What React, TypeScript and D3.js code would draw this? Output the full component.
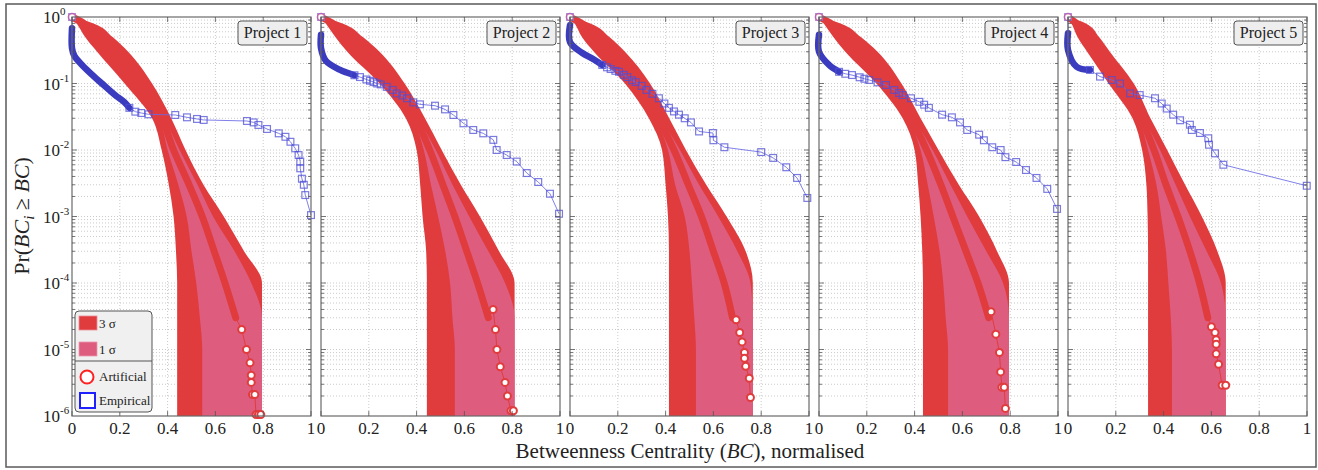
import React from 'react';
import * as d3 from 'd3';

const SERIF = "'Liberation Serif', 'Times New Roman', serif";
const RED = '#e03c3e';
const PINK = '#de5d7e';
const BLUE_DARK = '#3b3bc0';
const BLUE = '#4d4dd6';

const PLOT_LEFT = 72;
const PANEL_STEP = 249;
const PLOT_W = 239;
const PLOT_TOP = 17;
const PLOT_BOTTOM = 416;

const projectNames = ['Project 1', 'Project 2', 'Project 3', 'Project 4', 'Project 5'];
const xTicks = [0, 0.2, 0.4, 0.6, 0.8, 1];
const xTickLabels = ['0', '0.2', '0.4', '0.6', '0.8', '1'];
const yDecades = [0, -1, -2, -3, -4, -5, -6];

// probability levels at which the band edges were read
const bandLevels = [1, 0.8, 0.5, 0.3, 0.1, 0.03, 0.01, 3e-3, 1e-3, 3e-4, 1e-4, 3e-5, 1e-5, 1e-6];

const lower3 = [
  [0, 0.02, 0.055, 0.105, 0.22, 0.335, 0.375, 0.405, 0.425, 0.435, 0.44, 0.44, 0.44, 0.44],
  [0, 0.02, 0.06, 0.11, 0.245, 0.355, 0.40, 0.415, 0.425, 0.44, 0.443, 0.443, 0.443, 0.443],
  [0, 0.02, 0.05, 0.10, 0.23, 0.33, 0.385, 0.40, 0.41, 0.414, 0.414, 0.414, 0.414, 0.414],
  [0, 0.02, 0.06, 0.11, 0.24, 0.35, 0.40, 0.415, 0.425, 0.432, 0.435, 0.435, 0.435, 0.435],
  [0, 0.015, 0.04, 0.08, 0.17, 0.27, 0.31, 0.328, 0.333, 0.335, 0.335, 0.335, 0.335, 0.335],
];
const lower1 = [
  [0, 0.045, 0.10, 0.16, 0.27, 0.365, 0.40, 0.445, 0.48, 0.50, 0.52, 0.535, 0.545, 0.545],
  [0, 0.045, 0.105, 0.165, 0.29, 0.385, 0.43, 0.46, 0.49, 0.52, 0.54, 0.55, 0.56, 0.56],
  [0, 0.045, 0.10, 0.155, 0.275, 0.36, 0.41, 0.44, 0.48, 0.50, 0.51, 0.52, 0.527, 0.527],
  [0, 0.045, 0.105, 0.165, 0.28, 0.375, 0.425, 0.455, 0.48, 0.505, 0.52, 0.53, 0.54, 0.54],
  [0, 0.03, 0.075, 0.115, 0.21, 0.295, 0.335, 0.37, 0.39, 0.41, 0.42, 0.43, 0.435, 0.435],
];
const upper1 = [
  [0, 0.055, 0.12, 0.18, 0.29, 0.385, 0.45, 0.525, 0.59, 0.68, 0.75, 0.795, 0.795, 0.795],
  [0, 0.055, 0.125, 0.185, 0.31, 0.405, 0.48, 0.55, 0.62, 0.70, 0.77, 0.81, 0.81, 0.81],
  [0, 0.055, 0.12, 0.175, 0.295, 0.38, 0.46, 0.54, 0.62, 0.70, 0.755, 0.765, 0.765, 0.765],
  [0, 0.055, 0.125, 0.185, 0.30, 0.395, 0.475, 0.55, 0.62, 0.70, 0.77, 0.795, 0.795, 0.795],
  [0, 0.04, 0.095, 0.135, 0.23, 0.315, 0.385, 0.45, 0.51, 0.58, 0.64, 0.66, 0.66, 0.66],
];
const upper3 = [
  [0, 0.09, 0.17, 0.235, 0.335, 0.415, 0.475, 0.55, 0.635, 0.72, 0.795, 0.795, 0.795, 0.795],
  [0, 0.09, 0.175, 0.245, 0.35, 0.435, 0.505, 0.585, 0.665, 0.745, 0.81, 0.81, 0.81, 0.81],
  [0, 0.085, 0.165, 0.23, 0.335, 0.415, 0.485, 0.57, 0.655, 0.735, 0.765, 0.765, 0.765, 0.765],
  [0, 0.09, 0.175, 0.245, 0.345, 0.425, 0.50, 0.585, 0.67, 0.745, 0.795, 0.795, 0.795, 0.795],
  [0, 0.075, 0.13, 0.175, 0.275, 0.345, 0.415, 0.49, 0.56, 0.625, 0.66, 0.66, 0.66, 0.66],
];
// mean of the artificial runs, at the first 12 band levels (dense markers)
const meanX = [
  [0, 0.05, 0.11, 0.17, 0.28, 0.375, 0.425, 0.49, 0.545, 0.595, 0.64, 0.685],
  [0, 0.05, 0.115, 0.175, 0.30, 0.395, 0.455, 0.51, 0.56, 0.61, 0.655, 0.70],
  [0, 0.05, 0.11, 0.165, 0.285, 0.37, 0.435, 0.495, 0.55, 0.60, 0.645, 0.68],
  [0, 0.05, 0.115, 0.175, 0.29, 0.385, 0.45, 0.51, 0.56, 0.615, 0.665, 0.71],
  [0, 0.035, 0.085, 0.125, 0.22, 0.305, 0.36, 0.41, 0.46, 0.51, 0.55, 0.585],
];
// sparse artificial markers in the tail
const tailX = [
  [0.71, 0.73, 0.745, 0.75, 0.75, 0.755, 0.765, 0.77, 0.78, 0.79],
  [0.72, 0.73, 0.736, 0.75, 0.77, 0.78, 0.795, 0.805],
  [0.695, 0.71, 0.72, 0.73, 0.73, 0.735, 0.75, 0.755],
  [0.72, 0.74, 0.755, 0.76, 0.765, 0.775, 0.78],
  [0.60, 0.615, 0.62, 0.62, 0.62, 0.63, 0.645, 0.66],
];
const tailP = [
  [2e-5, 1e-5, 6.3e-6, 4.1e-6, 3.2e-6, 2.1e-6, 2.1e-6, 1.05e-6, 1.05e-6, 1.05e-6],
  [4e-5, 2e-5, 1e-5, 5.5e-6, 3.2e-6, 2e-6, 1.2e-6, 1.2e-6],
  [2.8e-5, 1.8e-5, 1.3e-5, 9e-6, 7.4e-6, 5.6e-6, 3.7e-6, 1.9e-6],
  [3.7e-5, 1.7e-5, 9e-6, 4.6e-6, 2.7e-6, 2.7e-6, 1.3e-6],
  [2.2e-5, 1.8e-5, 1.4e-5, 1.2e-5, 8.6e-6, 6e-6, 2.9e-6, 2.9e-6],
];

// empirical CCDF; the first `denseCount` points are overplotted into a solid band
const empX = [
  [0, 0, 0, 0.01, 0.042, 0.08, 0.125, 0.18, 0.22, 0.24, 0.265, 0.29, 0.32, 0.432, 0.481, 0.523, 0.551, 0.732, 0.76, 0.78, 0.816, 0.865, 0.893, 0.914, 0.934, 0.948, 0.955, 0.955, 0.962, 0.97, 0.976, 1.0],
  [0, 0, 0, 0.02, 0.08, 0.11, 0.14, 0.163, 0.19, 0.205, 0.22, 0.235, 0.25, 0.275, 0.30, 0.317, 0.34, 0.36, 0.386, 0.414, 0.477, 0.519, 0.554, 0.596, 0.637, 0.679, 0.721, 0.735, 0.777, 0.819, 0.861, 0.909, 0.958, 0.996],
  [0, 0, 0, 0.05, 0.10, 0.135, 0.155, 0.17, 0.19, 0.205, 0.225, 0.24, 0.26, 0.275, 0.30, 0.32, 0.345, 0.372, 0.395, 0.414, 0.435, 0.456, 0.48, 0.506, 0.54, 0.598, 0.60, 0.646, 0.80, 0.85, 0.905, 0.95, 0.993],
  [0, 0, 0, 0.042, 0.084, 0.11, 0.138, 0.17, 0.19, 0.21, 0.245, 0.28, 0.315, 0.335, 0.35, 0.385, 0.42, 0.44, 0.46, 0.515, 0.556, 0.59, 0.62, 0.67, 0.69, 0.725, 0.76, 0.78, 0.825, 0.866, 0.91, 0.955, 0.996],
  [0, 0, 0, 0.036, 0.092, 0.134, 0.183, 0.218, 0.26, 0.30, 0.364, 0.392, 0.413, 0.44, 0.469, 0.51, 0.518, 0.552, 0.587, 0.59, 0.615, 0.65, 0.999],
];
const empP = [
  [1, 0.68, 0.34, 0.26, 0.19, 0.14, 0.1, 0.067, 0.052, 0.043, 0.0377, 0.036, 0.0344, 0.0336, 0.031, 0.0293, 0.0283, 0.0273, 0.026, 0.0238, 0.0207, 0.0178, 0.0158, 0.0133, 0.0106, 0.0084, 0.0067, 0.0053, 0.0037, 0.003, 0.0021, 0.00105],
  [1, 0.54, 0.34, 0.22, 0.16, 0.145, 0.133, 0.125, 0.115, 0.11, 0.105, 0.1, 0.097, 0.089, 0.08, 0.071, 0.066, 0.06, 0.052, 0.0486, 0.0464, 0.0408, 0.0336, 0.0252, 0.02, 0.0178, 0.0142, 0.01, 0.0084, 0.0067, 0.0045, 0.0033, 0.0022, 0.0011],
  [1, 0.76, 0.42, 0.29, 0.23, 0.19, 0.175, 0.165, 0.155, 0.15, 0.135, 0.125, 0.112, 0.105, 0.092, 0.08, 0.07, 0.06, 0.05, 0.043, 0.038, 0.034, 0.03, 0.026, 0.019, 0.018, 0.014, 0.011, 0.0093, 0.0076, 0.0055, 0.0038, 0.0019],
  [1, 0.54, 0.3, 0.19, 0.15, 0.14, 0.134, 0.124, 0.118, 0.113, 0.104, 0.095, 0.08, 0.072, 0.067, 0.06, 0.053, 0.048, 0.043, 0.034, 0.031, 0.026, 0.02, 0.017, 0.014, 0.011, 0.01, 0.0078, 0.0066, 0.005, 0.0038, 0.0026, 0.0013],
  [1, 0.57, 0.32, 0.179, 0.16, 0.127, 0.113, 0.1, 0.071, 0.067, 0.06, 0.05, 0.042, 0.034, 0.028, 0.024, 0.02, 0.018, 0.015, 0.012, 0.0089, 0.006, 0.0029],
];
const denseCount = [10, 7, 6, 5, 5];

function Panel({ i }: { i: number }) {
  const left = PLOT_LEFT + i * PANEL_STEP;
  const x = d3.scaleLinear().domain([0, 1]).range([left, left + PLOT_W]);
  const y = d3.scaleLog().domain([1e-6, 1]).range([PLOT_BOTTOM, PLOT_TOP]);

  const band = (lo: number[], hi: number[]) =>
    d3.area<number>()
      .y(d => y(d))
      .x0((_, k) => x(lo[k]))
      .x1((_, k) => x(hi[k]))
      .curve(d3.curveMonotoneY)(bandLevels) || '';

  const meanLine = d3.line<number>()
    .x(d => x(d))
    .y((_, k) => y(bandLevels[k]))
    .curve(d3.curveMonotoneY)(meanX[i]) || '';

  const lastMean = meanX[i].length - 1;
  const tailPts: [number, number][] = [[meanX[i][lastMean], bandLevels[lastMean]] as [number, number]]
    .concat(tailX[i].map((v, k) => [v, tailP[i][k]] as [number, number]));
  const tailLine = d3.line<[number, number]>().x(d => x(d[0])).y(d => y(d[1]))(tailPts) || '';

  const emp = empX[i].map((v, k) => [v, empP[i][k]] as [number, number]);
  const empLine = d3.line<[number, number]>().x(d => x(d[0])).y(d => y(d[1]))(emp) || '';
  const denseLine = d3.line<[number, number]>()
    .x(d => x(d[0])).y(d => y(d[1]))
    .curve(d3.curveCatmullRom.alpha(0.5))(emp.slice(1, denseCount[i])) || '';

  const minorLevels: number[] = [];
  for (let e = -6; e < 0; e++) {
    for (let m = 1; m <= 9; m++) {
      if (m === 1 && e === -6) continue;
      minorLevels.push(m * Math.pow(10, e));
    }
  }

  const clipId = `clip${i}`;
  const right = left + PLOT_W;

  return (
    <g>
      <defs>
        <clipPath id={clipId}>
          <rect x={left} y={PLOT_TOP} width={PLOT_W} height={PLOT_BOTTOM - PLOT_TOP} />
        </clipPath>
      </defs>
      <rect x={left} y={PLOT_TOP} width={PLOT_W} height={PLOT_BOTTOM - PLOT_TOP} fill="#fff" />
      {/* grid */}
      {minorLevels.map(p => (
        <line key={'h' + p} x1={left} x2={right} y1={y(p)} y2={y(p)}
          stroke="#bdbdbd" strokeWidth={0.8} strokeDasharray="1,2" />
      ))}
      {xTicks.slice(1, -1).map(t => (
        <line key={'v' + t} x1={x(t)} x2={x(t)} y1={PLOT_TOP} y2={PLOT_BOTTOM}
          stroke="#bdbdbd" strokeWidth={0.8} strokeDasharray="1,2" />
      ))}

      <g clipPath={`url(#${clipId})`}>
        <path d={band(lower3[i], upper3[i])} fill={RED} />
        <path d={band(lower1[i], upper1[i])} fill={PINK} />
      </g>
      <path d={meanLine} fill="none" stroke={RED} strokeWidth={7} strokeLinecap="round" strokeLinejoin="round" />
      <path d={tailLine} fill="none" stroke={RED} strokeWidth={1} />
      {tailX[i].map((v, k) => (
        <circle key={'t' + k} cx={x(v)} cy={y(tailP[i][k])} r={3.5} fill="#fff" stroke={RED} strokeWidth={2} />
      ))}
      <circle cx={x(0)} cy={y(1)} r={3.6} fill="#fff" stroke="#e26a8c" strokeWidth={1.5} />

      {/* empirical */}
      <path d={empLine} fill="none" stroke="#6a6ae4" strokeWidth={1} opacity={0.85} />
      <path d={denseLine} fill="none" stroke={BLUE_DARK} strokeWidth={6.5} strokeLinejoin="round" strokeLinecap="round" />
      {emp.map((d, k) => (k === 0 || k >= denseCount[i] - 1) ? (
        <rect key={'e' + k} x={x(d[0]) - 3.4} y={y(d[1]) - 3.4} width={6.8} height={6.8}
          fill="none" stroke={k === 0 ? '#9a6ad0' : BLUE} strokeWidth={1.2} opacity={0.75} />
      ) : null)}

      {/* axes box and ticks */}
      <rect x={left} y={PLOT_TOP} width={PLOT_W} height={PLOT_BOTTOM - PLOT_TOP} fill="none" stroke="#6a6a6a" strokeWidth={1.2} />
      {minorLevels.map(p => {
        const major = Math.abs(Math.log10(p) - Math.round(Math.log10(p))) < 1e-9;
        const len = major ? 5 : 3;
        return (
          <g key={'yt' + p} stroke="#555" strokeWidth={0.8}>
            <line x1={left} x2={left + len} y1={y(p)} y2={y(p)} />
            <line x1={right} x2={right - len} y1={y(p)} y2={y(p)} />
          </g>
        );
      })}
      {xTicks.map(t => (
        <g key={'xt' + t} stroke="#555" strokeWidth={0.8}>
          <line x1={x(t)} x2={x(t)} y1={PLOT_BOTTOM} y2={PLOT_BOTTOM - 5} />
          <line x1={x(t)} x2={x(t)} y1={PLOT_TOP} y2={PLOT_TOP + 5} />
        </g>
      ))}
      {xTicks.map((t, k) => (
        <text key={'xl' + t} x={x(t)} y={PLOT_BOTTOM + 18} textAnchor="middle"
          fontFamily={SERIF} fontSize={17} fill="#222">{xTickLabels[k]}</text>
      ))}

      {/* project label */}
      <rect x={right - 73} y={PLOT_TOP + 4} width={69} height={24} rx={3}
        fill="#eeeeee" stroke="#555" strokeWidth={1} />
      <text x={right - 38.5} y={PLOT_TOP + 21} textAnchor="middle"
        fontFamily={SERIF} fontSize={16} fill="#222">{projectNames[i]}</text>
    </g>
  );
}

function Legend() {
  const lx = 75, ly = 311;
  return (
    <g fontFamily={SERIF} fontSize={13} fill="#222">
      <rect x={lx} y={ly} width={77} height={101} rx={4} fill="#f0f0f0" stroke="#555" strokeWidth={1} />
      <line x1={lx} x2={lx + 77} y1={361} y2={361} stroke="#555" strokeWidth={1} />
      <rect x={79} y={316} width={18} height={14} fill={RED} stroke="#ec8a9a" strokeWidth={0.8} />
      <text x={99} y={328}>3 σ</text>
      <rect x={79} y={342} width={18} height={14} fill={PINK} stroke="#ec9ab0" strokeWidth={0.8} />
      <text x={99} y={354}>1 σ</text>
      <circle cx={87} cy={377} r={6.5} fill="#fff" stroke="#ff2020" strokeWidth={2} />
      <text x={99} y={381}>Artificial</text>
      <rect x={80} y={393} width={15} height={15} fill="#fff" stroke="#2020ff" strokeWidth={2} />
      <text x={99} y={405}>Empirical</text>
    </g>
  );
}

export default function App() {
  const y = d3.scaleLog().domain([1e-6, 1]).range([PLOT_BOTTOM, PLOT_TOP]);
  return (
    <svg width={1318} height={470} style={{ position: 'absolute', left: 0, top: 0, background: '#fff' }}>
      <rect x={6} y={4} width={1310} height={463} fill="#fff" stroke="#5a5a5a" strokeWidth={1.5} />
      {projectNames.map((_, i) => <Panel key={i} i={i} />)}
      {yDecades.map(e => (
        <text key={e} x={43} y={y(Math.pow(10, e)) + 6} fontFamily={SERIF} fontSize={17} fill="#222">
          10<tspan fontSize={11} dy={-8}>{e === 0 ? '0' : `-${-e}`}</tspan>
        </text>
      ))}
      <Legend />
      <text transform="translate(29,216) rotate(-90)" textAnchor="middle" fontFamily={SERIF} fontSize={22} fill="#222">
        Pr(<tspan fontStyle="italic">BC</tspan><tspan fontStyle="italic" fontSize={15} dy={5}>i</tspan><tspan dy={-5}> ≥ </tspan><tspan fontStyle="italic">BC</tspan>)
      </text>
      <text x={690} y={458} textAnchor="middle" fontFamily={SERIF} fontSize={21} fill="#222">
        Betweenness Centrality (<tspan fontStyle="italic">BC</tspan>), normalised
      </text>
    </svg>
  );
}
